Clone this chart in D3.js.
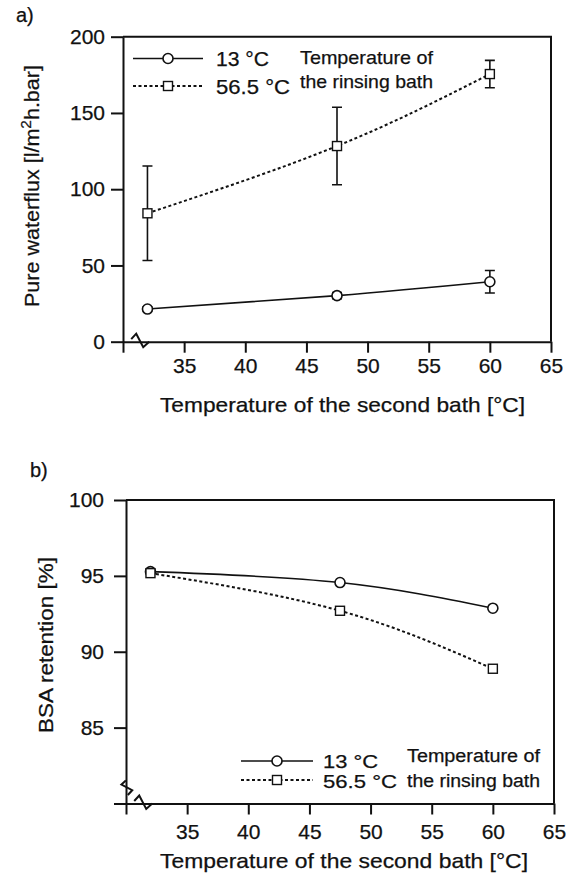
<!DOCTYPE html>
<html>
<head>
<meta charset="utf-8">
<script src="https://cdn.jsdelivr.net/npm/d3@7"></script>
<style>
  body { margin: 0; background: #fff; }
  text { font-family: "Liberation Sans", Arial, sans-serif; fill: #111; stroke: #111; stroke-width: 0.25px; }
</style>
</head>
<body>
<div class="chart"></div>
<script>
// data
let temps = [32, 47.5, 60]
let flux13 = [21.4, 30.2, 39.3]
let flux13Err = [1.5, 2, 7.4]
let flux565 = [84.2, 128.3, 175.5]
let flux565Err = [31, 25.4, 9]
let bsa13 = [95.28, 94.56, 92.87]
let bsa565 = [95.18, 92.7, 88.88]
let xTicks = [30, 35, 40, 45, 50, 55, 60, 65]
let fluxTicks = [0, 50, 100, 150, 200]
let bsaTicks = [80, 85, 90, 95, 100]
let seriesNames = ['13 °C', '56.5 °C']
let legendNote = ['Temperature of', 'the rinsing bath']
let xTitle = 'Temperature of the second bath [°C]'

let ink = '#111'

let svg = d3.select('.chart')
    .append('svg')
    .attr('width', 569)
    .attr('height', 876)

// zigzag used for the axis breaks (pixel offsets from an anchor)
let zig = [[-4, -2.5], [1, -8], [8, 5.5], [14, 0]]

function marker(g, type, cx, cy) {
    if (type === 'circle') {
        g.append('circle').attr('cx', cx).attr('cy', cy).attr('r', 5)
            .attr('fill', '#fff').attr('stroke', ink).attr('stroke-width', 1.6)
    } else {
        g.append('rect').attr('x', cx - 4.5).attr('y', cy - 4.5)
            .attr('width', 9).attr('height', 9)
            .attr('fill', '#fff').attr('stroke', ink).attr('stroke-width', 1.4)
    }
}

function drawPanel(o) {
    let x = d3.scaleLinear().domain([30, 65]).range([o.left, o.right])
    let y = d3.scaleLinear().domain([o.yTicks[0], o.yTicks[o.yTicks.length - 1]]).range([o.bottom, o.top])
    let g = svg.append('g')

    // frame top and right
    g.append('path')
        .attr('d', `M${o.left},${o.top}H${o.right}V${o.bottom}`)
        .attr('fill', 'none').attr('stroke', ink).attr('stroke-width', 2)

    //Axis
    let xAxis = d3.axisBottom(x)
        .tickValues(xTicks)
        .tickSize(11)
        .tickSizeOuter(0)
        .tickPadding(o.xPad)
        .tickFormat(d => d === 30 ? '' : d)
    let xg = g.append('g')
        .attr('transform', `translate(0,${o.bottom})`)
        .call(xAxis)

    let yAxis = d3.axisLeft(y)
        .tickValues(o.yTicks)
        .tickSize(12)
        .tickSizeOuter(0)
        .tickPadding(o.yPad)
        .tickFormat(d => o.hideY.includes(d) ? '' : d)
    let yg = g.append('g')
        .attr('transform', `translate(${o.left},0)`)
        .call(yAxis)

    for (let ax of [xg, yg]) {
        ax.attr('font-family', null).attr('font-size', null)
        ax.selectAll('path, line').attr('stroke', ink).attr('stroke-width', 2)
        ax.selectAll('text').attr('font-size', 21).attr('fill', ink)
    }

    // axis breaks
    let zigLine = d3.line()
    for (let b of o.breaks) {
        let ax = x(b[0]), ay = y(b[1])
        let pts = zig.map(p => b[2] ? [ax + p[1] * 0.8, ay + p[0] * 0.8] : [ax + p[0], ay + p[1]])
        g.append('path')
            .attr('d', zigLine(pts))
            .attr('fill', 'none').attr('stroke', ink).attr('stroke-width', 2)
    }

    // titles
    g.append('text')
        .attr('x', o.xTitle[0]).attr('y', o.xTitle[1])
        .attr('font-size', 21)
        .attr('textLength', o.xTitle[2]).attr('lengthAdjust', 'spacingAndGlyphs')
        .text(xTitle)

    let yt = g.append('text')
        .attr('transform', `translate(${o.yTitle[0]},${o.yTitle[1]}) rotate(-90)`)
        .attr('font-size', 21)
        .attr('textLength', o.yTitle[2]).attr('lengthAdjust', 'spacingAndGlyphs')
    o.yTitleParts.forEach(p => {
        yt.append('tspan')
            .attr('font-size', p.sup ? 15 : 21)
            .attr('dy', p.sup ? -8 : (p.after ? 8 : 0))
            .text(p.t)
    })

    g.append('text')
        .attr('x', o.tag[0]).attr('y', o.tag[1])
        .attr('font-size', 20)
        .text(o.tag[2])

    // lines
    let line = d3.line()
        .x(d => x(d[0]))
        .y(d => y(d[1]))
        .curve(d3.curveNatural)

    o.series.forEach((s, i) => {
        let pts = temps.map((t, k) => [t, s.values[k]])
        g.append('path')
            .attr('fill', 'none')
            .attr('stroke', ink)
            .attr('stroke-width', i === 0 ? 1.6 : 2)
            .attr('stroke-dasharray', i === 0 ? null : '3,2.5')
            .attr('d', line(pts))

        if (s.err) {
            pts.forEach((p, k) => {
                let e = s.err[k]
                let cx = x(p[0]), y0 = y(p[1] - e), y1 = y(p[1] + e)
                g.append('path')
                    .attr('d', `M${cx},${y0}V${y1}M${cx - 5},${y0}H${cx + 5}M${cx - 5},${y1}H${cx + 5}`)
                    .attr('fill', 'none').attr('stroke', ink).attr('stroke-width', 1.6)
            })
        }
        pts.forEach(p => marker(g, s.marker, x(p[0]), y(p[1])))
    })

    // legend
    let L = o.legend
    o.series.forEach((s, i) => {
        let ly = L.rows[i]
        g.append('line')
            .attr('x1', L.x0).attr('x2', L.x1).attr('y1', ly).attr('y2', ly)
            .attr('stroke', ink)
            .attr('stroke-width', i === 0 ? 1.6 : 2)
            .attr('stroke-dasharray', i === 0 ? null : '3,2.5')
        marker(g, s.marker, L.mx, ly)
        g.append('text')
            .attr('x', L.tx).attr('y', L.base[i])
            .attr('font-size', L.size)
            .attr('textLength', L.nameW[i]).attr('lengthAdjust', 'spacingAndGlyphs')
            .text(seriesNames[i])
        g.append('text')
            .attr('x', L.nx).attr('y', L.noteBase[i])
            .attr('font-size', L.size - 1)
            .attr('textLength', 133).attr('lengthAdjust', 'spacingAndGlyphs')
            .text(legendNote[i])
    })
}

drawPanel({
    left: 123, right: 551, top: 36.7, bottom: 341.7,
    yTicks: fluxTicks, hideY: [],
    xPad: 5, yPad: 6,
    breaks: [[31, 0, false]],
    xTitle: [160, 411.7, 365],
    yTitle: [38.5, 307, 242],
    yTitleParts: [{t: 'Pure waterflux [l/m'}, {t: '2', sup: true}, {t: 'h.bar]', after: true}],
    tag: [16, 22, 'a)'],
    series: [
        {values: flux13, err: flux13Err, marker: 'circle'},
        {values: flux565, err: flux565Err, marker: 'square'}
    ],
    legend: {x0: 133, x1: 203, mx: 168, tx: 216, rows: [58.5, 86], base: [66, 93.5],
             nameW: [53, 74], size: 20, nx: 300, noteBase: [64.3, 88.3]}
})

drawPanel({
    left: 126, right: 554, top: 500, bottom: 803.5,
    yTicks: bsaTicks, hideY: [80],
    xPad: 10, yPad: 10,
    breaks: [[31, 80, false], [30.15, 81.3, true]],
    xTitle: [160, 868, 368],
    yTitle: [53, 733, 176],
    yTitleParts: [{t: 'BSA retention [%]'}],
    tag: [30, 477, 'b)'],
    series: [
        {values: bsa13, marker: 'circle'},
        {values: bsa565, marker: 'square'}
    ],
    legend: {x0: 241, x1: 313, mx: 277, tx: 323, rows: [761, 780], base: [767.5, 787.7],
             nameW: [55, 74], size: 19, nx: 407, noteBase: [761.7, 786.7]}
})
</script>
</body>
</html>
